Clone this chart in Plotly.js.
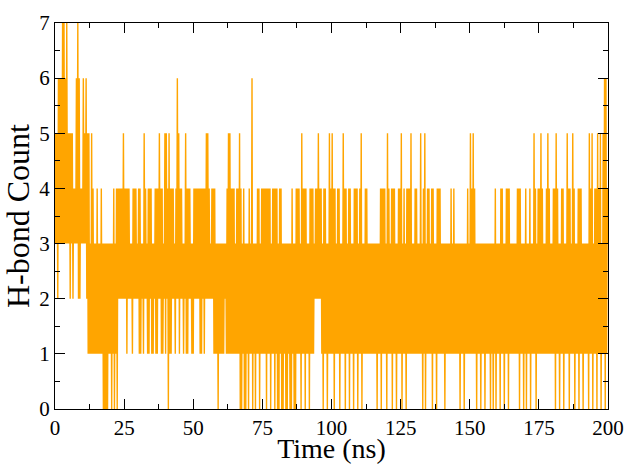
<!DOCTYPE html>
<html><head><meta charset="utf-8">
<script src="https://cdn.plot.ly/plotly-3.0.1.min.js"></script>
<style>html,body{margin:0;padding:0;background:#fff}</style>
</head><body>
<div id="chart" style="width:628px;height:464px"></div>
<script>
// Sampling interval of the series (ns)
const timeStepNs = 0.25;

// H-bond counts, one digit per 0.25 ns, grouped per 1 ns
const hbond_000_025 = "3535 2636 3637 3736 3735 3525 3524 3436 3726 2434 3635 3625 1513 1514 1313 1413 1314 1303 0303 0313 1303 1403 1404 2424 2425";
const hbond_025_050 = "2424 1424 2323 1424 2423 2414 1323 1524 2314 1424 1313 2414 1425 2414 1325 1524 0514 1424 2314 2625 1424 2313 2514 1424 2313";
const hbond_050_075 = "1424 2424 2414 1424 1425 2524 2324 2414 1313 0313 1313 1323 1415 1514 1414 1314 1415 0403 1403 0313 0413 1603 1303 1414 0314";
const hbond_075_100 = "1414 1404 1414 0314 1404 1403 0414 0303 1303 0313 0304 1303 0414 1413 0514 1404 1313 0414 1413 2424 2524 2413 0414 1303 1514";
const hbond_100_125 = "1514 0413 1414 0313 1514 0413 1404 1313 0414 1403 1415 0313 1414 1313 1313 1313 1303 1314 0414 1413 0514 1314 0414 1303 1414";
const hbond_125_150 = "1503 1413 0414 1415 1313 1414 1313 1513 0415 0314 1413 1404 1313 0414 1413 1313 0313 1313 1413 1413 1313 1303 1313 0313 1413";
const hbond_150_175 = "1514 1514 1303 1313 0313 1303 1313 1303 1303 1403 1313 0414 1303 1414 0413 1313 1313 1414 0413 1303 1403 1314 0313 1514 0314";
const hbond_175_200 = "1415 1413 1314 1514 1313 1414 0514 1303 1414 0313 1514 0413 1514 0313 1404 1413 0313 1313 0514 1503 1414 0514 1503 1516 0614 3";

const xTickStep = 25;
const xMinorStep = 12.5;
const yTickStep = 1;
const yMinorStep = 0.5;
const xRange = [0, 200];
const yRange = [0, 7];

const hbondCount = [hbond_000_025, hbond_025_050, hbond_050_075, hbond_075_100,
  hbond_100_125, hbond_125_150, hbond_150_175, hbond_175_200]
  .join('').replace(/\s+/g, '').split('').map(Number);
const timeNs = hbondCount.map((_, i) => i * timeStepNs);

const serif = 'Liberation Serif, Times New Roman, serif';

const axisCommon = {
  showline: true, linecolor: '#000', linewidth: 1, mirror: 'ticks',
  ticks: 'inside', ticklen: 10, tickwidth: 1, tickcolor: '#000',
  showgrid: false, zeroline: false,
  tickfont: {family: serif, size: 21, color: '#000'},
  fixedrange: true
};

const layout = {
  width: 628, height: 464,
  margin: {l: 55, r: 20, t: 23, b: 55},
  paper_bgcolor: '#fff', plot_bgcolor: '#fff',
  showlegend: false,
  xaxis: Object.assign({}, axisCommon, {
    range: xRange, tick0: 0, dtick: xTickStep,
    minor: {ticks: 'inside', ticklen: 5, tickwidth: 1, tickcolor: '#000', dtick: xMinorStep, showgrid: false},
    title: {text: 'Time (ns)', font: {family: serif, size: 28, color: '#000'}, standoff: 7}
  }),
  yaxis: Object.assign({}, axisCommon, {
    range: yRange, tick0: 0, dtick: yTickStep,
    minor: {ticks: 'inside', ticklen: 5, tickwidth: 1, tickcolor: '#000', dtick: yMinorStep, showgrid: false},
    title: {text: 'H-bond Count', font: {family: serif, size: 32, color: '#000'}, standoff: 3}
  })
};

Plotly.newPlot('chart', [{
  x: timeNs, y: hbondCount, type: 'scatter', mode: 'lines',
  line: {color: '#FFA500', width: 1.4, simplify: false}, hoverinfo: 'skip'
}], layout, {staticPlot: true, displayModeBar: false});
</script>
</body></html>
